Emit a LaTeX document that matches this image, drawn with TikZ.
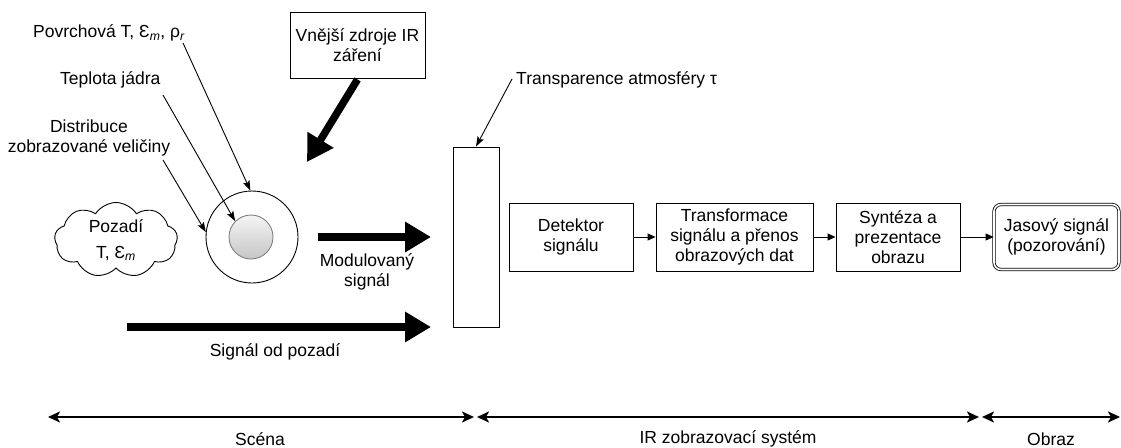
\documentclass[tikz,border=0pt]{standalone}
\usepackage{fontspec}
\setmainfont{Liberation Sans}
\usetikzlibrary{arrows.meta,shapes.symbols}
\begin{document}
\begin{tikzpicture}[x=1pt,y=-1pt,
  every node/.style={font=\fontsize{17.5}{20}\selectfont, inner sep=0pt, align=center},
  box/.style={draw, line width=0.9pt, minimum height=68pt},
  thin/.style={line width=0.9pt, -{Stealth[length=10pt,width=7pt,inset=2pt]}},
  flow/.style={line width=0.9pt, -{Triangle[length=8pt,width=7pt]}},
  thick/.style={line width=7.5pt, -{Triangle[length=26pt,width=29pt]}},
  span/.style={line width=2.2pt, {Stealth[length=12pt,width=11pt,inset=3pt]}-{Stealth[length=12pt,width=11pt,inset=3pt]}}
]
\useasboundingbox (0,0) rectangle (1121,447);

% labels top-left
\node[anchor=west] (pov) at (33,33) {Povrchová T, Ɛ\textsubscript{\textit{m}}, ρ\textsubscript{\textit{r}}};
\node[anchor=west] (tep) at (60,80) {Teplota jádra};
\node (dis) at (89,138) {Distribuce\\zobrazované veličiny};

% external source
\node[box, minimum width=135pt, minimum height=66pt] (vz) at (357.5,45) {Vnější zdroje IR\\záření};

% object
\node[cloud, draw, line width=0.9pt, cloud puffs=9, cloud puff arc=115, aspect=1.6,
      minimum width=123pt, minimum height=75pt] (bg) at (116,240) {Pozadí\\[6pt]T, Ɛ\textsubscript{\textit{m}}};
\node[circle, draw, line width=0.9pt, minimum size=92pt] (ring) at (252,237) {};
\node[circle, draw=gray, line width=0.9pt, top color=gray!8, bottom color=gray!45, minimum size=44pt] (core) at (251,237) {};

\coordinate (p1) at (183,43);
\coordinate (p2) at (163,95);
\coordinate (p3) at (163,160);
\draw[thin] (p1) -- (ring.92);
\draw[thin] (p2) -- (core.135);
\draw[thin] (p3) -- (ring.174);

\coordinate (vzt) at (307,162);
\draw[thick] (vz.south) ++(0,1) coordinate (vzs) (vzs) -- (vzt);

% atmosphere
\node[box, minimum width=46pt, minimum height=180pt] (atm) at (476,237) {};
\node[anchor=west] (tau) at (516,80) {Transparence atmosféry τ};
\coordinate (t1) at (512,79);
\draw[thin] (t1) -- (atm.north);

% signals
\coordinate (m1) at (318,237);
\coordinate (m2) at (431,237);
\draw[thick] (m1) -- (m2);
\node (mod) at (367,272) {Modulovaný\\signál};
\coordinate (s1) at (127,327);
\coordinate (s2) at (431,327);
\draw[thick] (s1) -- (s2);
\node (sop) at (275,352) {Signál od pozadí};

% chain
\node[box, minimum width=124pt] (det) at (571,237) {Detektor\\signálu};
\node[box, minimum width=157pt] (tra) at (734.5,237) {Transformace\\signálu a přenos\\obrazových dat};
\node[box, minimum width=124pt] (syn) at (898,237) {Syntéza a\\prezentace\\obrazu};
\node[draw, double, double distance=1.6pt, line width=0.8pt, rounded corners=7pt,
      minimum width=125pt, minimum height=65pt] (jas) at (1056.5,237) {Jasový signál\\(pozorování)};
\draw[flow] (det) -- (tra);
\draw[flow] (tra) -- (syn);
\draw[flow] (syn) -- (jas);

% bottom spans
\coordinate (b0) at (48,417);
\coordinate (b1) at (474,417);
\coordinate (b2) at (477,417);
\coordinate (b3) at (979,417);
\coordinate (b4) at (982,417);
\coordinate (b5) at (1120,417);
\draw[span] (b0) -- (b1);
\draw[span] (b2) -- (b3);
\draw[span] (b4) -- (b5);
\node (sc) at (260,439) {Scéna};
\node (irs) at (728,439) {IR zobrazovací systém};
\node (obr) at (1051,439) {Obraz};
\end{tikzpicture}
\end{document}
